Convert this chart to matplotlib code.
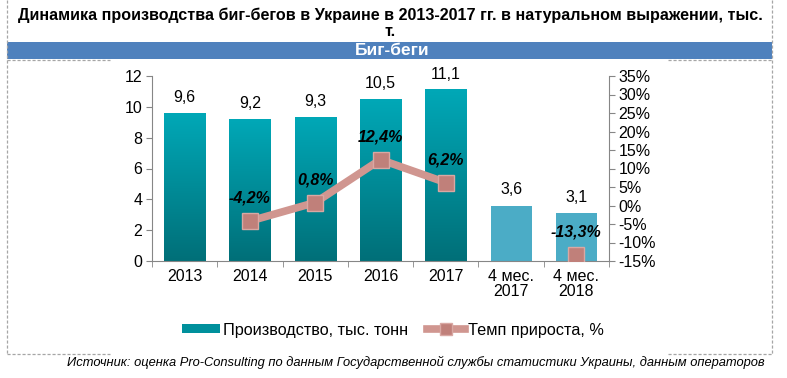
import matplotlib
matplotlib.use("Agg")
import matplotlib.pyplot as plt
import numpy as np
from matplotlib.lines import Line2D
from matplotlib.patches import Rectangle, Patch
from matplotlib.colors import LinearSegmentedColormap

plt.rcParams['font.family'] = ['Liberation Sans', 'DejaVu Sans']

categories = ["2013", "2014", "2015", "2016", "2017", "4 мес.\n2017", "4 мес.\n2018"]
production = [9.6, 9.2, 9.3, 10.5, 11.1, 3.6, 3.1]
production_labels = ["9,6", "9,2", "9,3", "10,5", "11,1", "3,6", "3,1"]
growth_idx_main = [1, 2, 3, 4]
growth_main = [-4.2, 0.8, 12.4, 6.2]
growth_idx_extra = [6]
growth_extra = [-13.3]
growth_labels_main = ["-4,2%", "0,8%", "12,4%", "6,2%"]
growth_labels_extra = ["-13,3%"]
right_ticks = [-15, -10, -5, 0, 5, 10, 15, 20, 25, 30, 35]

W, H = 787, 378
fig = plt.figure(figsize=(W / 100, H / 100), dpi=100)

def fx(px):
    return px / W

def fy(py):
    return 1 - py / H

# dashed frame
frame_kw = dict(color="#A6A6A6", lw=0.9, ls=(0, (2.5, 1.5)), transform=fig.transFigure)
fig.add_artist(Line2D([fx(7), fx(7)], [fy(0), fy(354)], **frame_kw))
fig.add_artist(Line2D([fx(772), fx(772)], [fy(0), fy(354)], **frame_kw))
fig.add_artist(Line2D([fx(7), fx(110)], [fy(354), fy(354)], **frame_kw))
fig.add_artist(Line2D([fx(668), fx(772)], [fy(354), fy(354)], **frame_kw))
fig.add_artist(Line2D([fx(7), fx(110)], [fy(60), fy(60)], **frame_kw))
fig.add_artist(Line2D([fx(668), fx(772)], [fy(60), fy(60)], **frame_kw))

# title
fig.text(fx(390), fy(15),
         "Динамика производства биг-бегов в Украине в 2013-2017 гг. в натуральном выражении, тыс.",
         ha="center", va="center", fontsize=11.6, fontweight="bold")
fig.text(fx(390), fy(32), "т.", ha="center", va="center", fontsize=11.6, fontweight="bold")

# band
fig.add_artist(Rectangle((fx(7), fy(59)), fx(765), 17 / H, transform=fig.transFigure,
                         facecolor="#4F81BD", edgecolor="none"))
fig.text(fx(392), fy(50.5), "Биг-беги", ha="center", va="center", fontsize=12.5,
         fontweight="bold", color="white")

ax = fig.add_axes([fx(152), fy(261), fx(609 - 152), (261 - 76) / H])
x = np.arange(len(categories))
bw = 0.63
bars = ax.bar(x, production, width=bw, color="none", edgecolor="none", zorder=2)

cmap = LinearSegmentedColormap.from_list("teal", ["#006F78", "#00A8B7"])
grad = np.linspace(0, 1, 256).reshape(-1, 1)
for i, (b, v) in enumerate(zip(bars, production)):
    x0 = b.get_x()
    if i < 5:
        ax.imshow(grad, extent=[x0, x0 + bw, 0, v], origin="lower", aspect="auto",
                  cmap=cmap, zorder=2)
    else:
        ax.add_patch(Rectangle((x0, 0), bw, v, facecolor="#4BACC6", edgecolor="none", zorder=2))
    ax.annotate(production_labels[i], (x[i], v), xytext=(0, 6), textcoords="offset points",
                ha="center", va="bottom", fontsize=11.5, color="#000000")

ax.set_xlim(-0.5, len(categories) - 0.5)
ax.set_ylim(0, 12)
ax.set_yticks(range(0, 13, 2))
ax.set_xticks(x)
ax.set_xticklabels(categories, fontsize=11.5, linespacing=1.0)
ax.set_xticks(np.arange(-0.5, len(categories), 1), minor=True)
ax.tick_params(axis="x", which="major", length=0, pad=6)
ax.tick_params(axis="x", which="minor", length=4, color="#868686", direction="out")
ax.tick_params(axis="y", length=4, color="#868686", labelsize=11.5, pad=3)
for s in ["top", "right"]:
    ax.spines[s].set_visible(False)
for s in ["left", "bottom"]:
    ax.spines[s].set_color("#868686")

ax2 = ax.twinx()
ax2.set_ylim(-15, 35)
ax2.set_yticks(right_ticks)
ax2.set_yticklabels([f"{t}%" for t in right_ticks])
ax2.tick_params(axis="y", length=4, color="#868686", labelsize=11.5, pad=3)
for s in ["top", "left", "bottom"]:
    ax2.spines[s].set_visible(False)
ax2.spines["right"].set_color("#868686")

line_col = "#D09690"
mk_face = "#C0807A"
mk_edge = "#D9A8A3"
ax2.plot(growth_idx_main, growth_main, color=line_col, lw=5.5, solid_capstyle="butt",
         marker="s", markersize=11.5, markerfacecolor=mk_face, markeredgecolor=mk_edge,
         markeredgewidth=1, zorder=3)
ax2.plot(growth_idx_extra, growth_extra, color=line_col, lw=5.5, ls="none",
         marker="s", markersize=11.5, markerfacecolor=mk_face, markeredgecolor=mk_edge,
         markeredgewidth=1, zorder=3)
for xi, v, lab in zip(growth_idx_main + growth_idx_extra, growth_main + growth_extra,
                      growth_labels_main + growth_labels_extra):
    ax2.annotate(lab, (xi, v), xytext=(0, 16.5), textcoords="offset points", ha="center",
                 va="center", fontsize=11.5, fontweight="bold", fontstyle="italic")

handles = [Patch(facecolor="#00909C", edgecolor="none"),
           Line2D([], [], color=line_col, lw=5.5, marker="s", markersize=9,
                  markerfacecolor=mk_face, markeredgecolor=mk_edge)]
fig.legend(handles, ["Производство, тыс. тонн", "Темп прироста, %"], loc="center",
           bbox_to_anchor=(fx(393), fy(330)), ncol=2, frameon=False, fontsize=11.7,
           handlelength=2.3, handletextpad=0.2, columnspacing=1.2, handleheight=0.5)

fig.text(fx(765), fy(362),
         "Источник: оценка Pro-Consulting по данным Государственной службы статистики Украины, данным операторов",
         ha="right", va="center", fontsize=9.3, fontstyle="italic")

fig.savefig("out.png", dpi=100)
